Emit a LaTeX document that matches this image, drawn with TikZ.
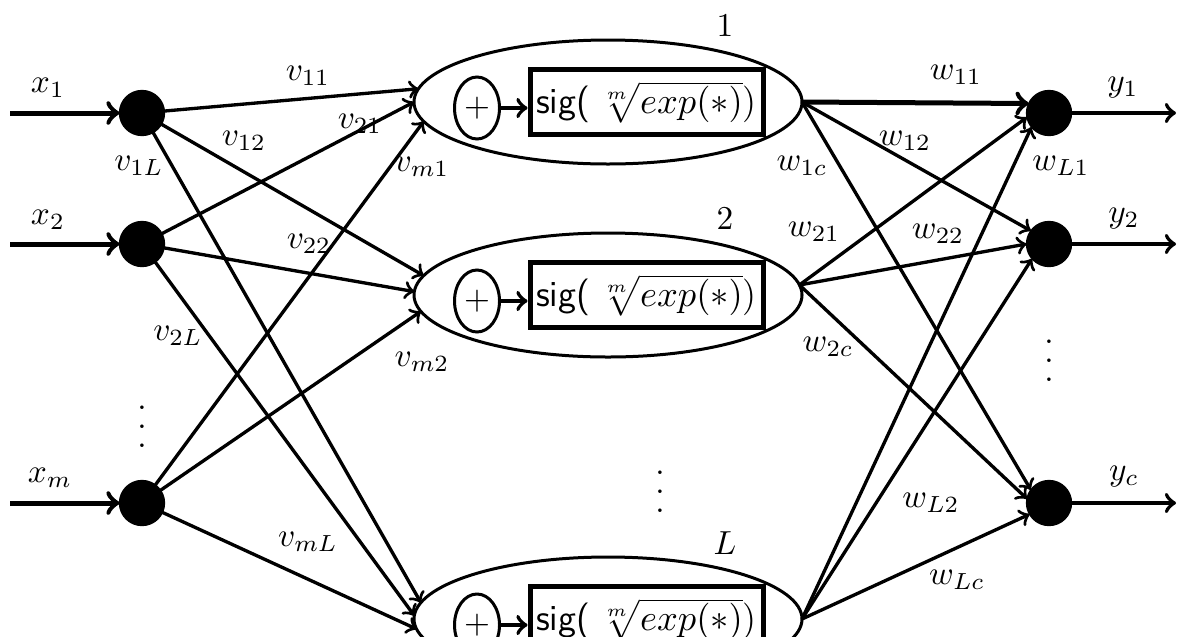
\documentclass[tikz,border=0pt]{standalone}
\usetikzlibrary{shapes.geometric,calc}
\newcommand\hiddenunit[4]{% name, x, y, label
  \node[hid] (#1) at (#2,#3) {};
  \node[plusnode] (#1p) at ($(#1)+(-131,6)$) {$+$};
  \node[fbox] (#1b) at ($(#1)+(38.5,0)$) {\fontsize{11}{13}\selectfont\textsf{sig(}\,$\sqrt[m]{exp(*)}$)};
  \draw[->,line width=1.2pt] (#1p) -- (#1p -| #1b.west);
  \node[lab] (#1l) at ($(#1)+(117,-76)$) {$#4$};
}
\newcommand\myvdots{\vbox{\baselineskip=5.6pt\lineskiplimit=-10pt\hbox{.}\hbox{.}\hbox{.}}}
\begin{document}
\begin{tikzpicture}[x=0.3pt,y=-0.3pt,
  neuron/.style={circle,fill=black,draw=black,minimum size=13.5pt,inner sep=0pt,outer sep=0pt},
  hid/.style={ellipse,draw,line width=0.9pt,minimum width=116.4pt,minimum height=37.2pt,inner sep=0pt,outer sep=0pt},
  plusnode/.style={ellipse,draw,line width=0.9pt,minimum width=13.5pt,minimum height=18.6pt,inner sep=0pt},
  fbox/.style={draw,line width=1.5pt,minimum width=69.9pt,minimum height=19.5pt,inner sep=0pt},
  edge/.style={->,line width=1pt},
  thickedge/.style={->,line width=1.5pt},
  inedge/.style={->,line width=1.5pt},
  outedge/.style={->,line width=1.2pt},
  lab/.style={inner sep=0pt},
  dotsnode/.style={inner sep=0pt,anchor=base}
]
\useasboundingbox (0,0) rectangle (1177,636);
\clip (0,0) rectangle (1177,636);

% input neurons
\node[neuron] (x1) at (142,113) {};
\node[neuron] (x2) at (142,244) {};
\node[neuron] (xm) at (142,503) {};
\coordinate (i1) at (10,113);
\coordinate (i2) at (10,244);
\coordinate (im) at (10,503);
\draw[inedge] (i1) -- (x1);
\draw[inedge] (i2) -- (x2);
\draw[inedge] (im) -- (xm);

% output neurons
\node[neuron] (y1) at (1049,113) {};
\node[neuron] (y2) at (1049,244) {};
\node[neuron] (yc) at (1049,503) {};
\coordinate (o1) at (1176,113);
\coordinate (o2) at (1176,244);
\coordinate (oc) at (1176,503);
\draw[outedge] (y1) -- (o1);
\draw[outedge] (y2) -- (o2);
\draw[outedge] (yc) -- (oc);

% hidden units
\hiddenunit{h1}{608}{102}{1}
\hiddenunit{h2}{608}{295}{2}
\hiddenunit{hL}{608}{619}{L}

% input -> hidden
\draw[edge] (x1) -- (h1.176);
\draw[edge] (x2) -- (h1.180);
\draw[edge] (xm) -- (h1.186);
\draw[edge] (x1) -- (h2.174);
\draw[edge] (x2) -- (h2.179);
\draw[edge] (xm) -- (h2.185);
\draw[edge] (x1) -- (hL.175);
\draw[edge] (x2) -- (hL.179);
\draw[edge] (xm) -- (hL.183);

% hidden -> output
\draw[thickedge] (h1.east) -- (y1.155);
\draw[edge] (h1.east) -- (y2.144);
\draw[edge] (h1.east) -- (yc.144);
\draw[edge] (h2.3) -- (y1.191);
\draw[edge] (h2.3) -- (y2.180);
\draw[edge] (h2.3) -- (yc.169);
\draw[edge] (hL.east) -- (y1.219);
\draw[edge] (hL.east) -- (y2.221);
\draw[edge] (hL.east) -- (yc.210);

% labels
\node[lab] (lx1) at (48,88) {$x_1$};
\node[lab] (lx2) at (48,220) {$x_2$};
\node[lab] (lxm) at (50,478) {$x_m$};
\node[lab] (ly1) at (1123,88) {$y_1$};
\node[lab] (ly2) at (1124,219) {$y_2$};
\node[lab] (lyc) at (1124,477) {$y_c$};

\node[lab] (lv11) at (308,76) {$v_{11}$};
\node[lab] (lv12) at (244,141) {$v_{12}$};
\node[lab] (lv21) at (360,124) {$v_{21}$};
\node[lab] (lv1L) at (139,166) {$v_{1L}$};
\node[lab] (lvm1) at (422,167) {$v_{m1}$};
\node[lab] (lv22) at (309,244) {$v_{22}$};
\node[lab] (lv2L) at (178,336) {$v_{2L}$};
\node[lab] (lvm2) at (422,362) {$v_{m2}$};
\node[lab] (lvmL) at (308,542) {$v_{mL}$};

\node[lab] (lw11) at (956,75) {$w_{11}$};
\node[lab] (lw12) at (905,141) {$w_{12}$};
\node[lab] (lw1c) at (802,166) {$w_{1c}$};
\node[lab] (lwL1) at (1061,166) {$w_{L1}$};
\node[lab] (lw21) at (814,232) {$w_{21}$};
\node[lab] (lw22) at (938,234) {$w_{22}$};
\node[lab] (lw2c) at (828,347) {$w_{2c}$};
\node[lab] (lwL2) at (931,503) {$w_{L2}$};
\node[lab] (lwLc) at (957,580) {$w_{Lc}$};

% dots
\node[dotsnode] (dl) at (142,447) {\myvdots};
\node[dotsnode] (dm) at (660,512) {\myvdots};
\node[dotsnode] (dr) at (1049,381) {\myvdots};
\end{tikzpicture}
\end{document}
